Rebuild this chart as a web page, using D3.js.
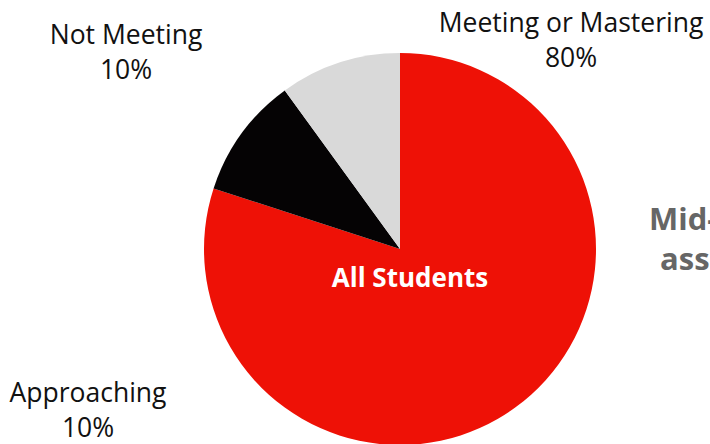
<!DOCTYPE html>
<html>
<head>
<meta charset="utf-8">
<script src="https://cdn.jsdelivr.net/npm/d3@7"></script>
<style>
  html, body { margin: 0; padding: 0; background: #fff; }
  svg { display: block; font-family: "Open Sans", sans-serif; }
</style>
</head>
<body>
<svg id="chart" width="710" height="444"></svg>
<script>
// Performance bands for all students
const categories = ["Meeting or Mastering", "Approaching", "Not Meeting"];
const values = [80, 10, 10];
const colors = ["#EE1106", "#050304", "#D9D9D9"];
const labelText = ["Meeting or Mastering", "Approaching", "Not Meeting"];
const centerLabel = "All Students";
const titleLines = ["Mid-year", "assessment"];

const svg = d3.select("#chart");
const cx = 400, cy = 249, r = 196;

const pie = d3.pie().sort(null).value(d => d.value);
const arc = d3.arc().innerRadius(0).outerRadius(r);
const data = categories.map((c, i) => ({ name: c, value: values[i], color: colors[i], label: labelText[i] }));
const arcs = pie(data);

const g = svg.append("g").attr("transform", `translate(${cx},${cy})`);
g.selectAll("path.slice")
  .data(arcs)
  .join("path")
  .attr("class", "slice")
  .attr("d", arc)
  .attr("fill", d => d.data.color);

// Outside labels: two lines (name, percent)
const labelPos = {
  "Meeting or Mastering": [571, 32],
  "Approaching": [88, 402],
  "Not Meeting": [126, 44]
};
const lbl = svg.append("g").attr("font-size", 26.5).attr("fill", "#111").attr("text-anchor", "middle");
arcs.forEach(a => {
  const [x, y] = labelPos[a.data.name];
  const t = lbl.append("text").attr("x", x).attr("y", y);
  t.append("tspan").attr("x", x).text(a.data.label);
  t.append("tspan").attr("x", x).attr("dy", 35).text(a.data.value + "%");
});

// Center label
svg.append("text")
  .attr("x", 410).attr("y", 287)
  .attr("text-anchor", "middle")
  .attr("font-size", 26).attr("font-weight", 700)
  .attr("fill", "#fff")
  .text(centerLabel);

// Title on the right
const title = svg.append("text")
  .attr("font-size", 31).attr("font-weight", 700).attr("fill", "#666");
title.append("tspan").attr("x", 649).attr("y", 230).text(titleLines[0]);
title.append("tspan").attr("x", 660).attr("y", 270).text(titleLines[1]);
</script>
</body>
</html>
